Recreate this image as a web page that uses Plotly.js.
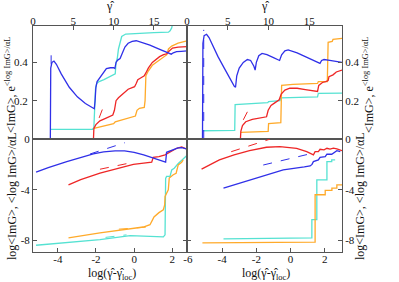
<!DOCTYPE html>
<html><head><meta charset="utf-8">
<script src="https://cdn.plot.ly/plotly-3.0.1.min.js"></script>
<style>html,body{margin:0;padding:0;background:#fff;}#chart{width:399px;height:282px;}</style>
</head><body><div id="chart"></div>
<script>
// ---------- Top-left panel (x = gamma-hat) ----------
const tlBlueX = [2.15,2.15,2.2,2.35,2.6,2.9,3.5,4.5,5.5,6.5,7.4,7.6,7.7,7.8,7.95,8.3,8.7,9.1,9.6,10.0,10.15,10.3,10.5,10.8,11.1,11.4,11.8,12.3,12.8,13.5,14.5,15.5,16.3,16.9,17.15,17.4,17.8,18.4,19.1];
const tlBlueY = [0,0.30,0.37,0.40,0.407,0.39,0.34,0.27,0.22,0.185,0.162,0.158,0.20,0.27,0.30,0.32,0.345,0.368,0.372,0.372,0.368,0.40,0.412,0.42,0.45,0.48,0.50,0.51,0.513,0.505,0.49,0.472,0.458,0.447,0.443,0.45,0.456,0.458,0.46];
const tlCyanX = [2.15,4.0,6.0,7.4,7.55,7.65,7.75,7.9,8.2,8.8,9.5,10.0,10.2,10.3,10.45,10.6,10.8,11.0,11.5,13.0,15.0,16.8,17.0,17.2,17.4];
const tlCyanY = [0.05,0.05,0.05,0.051,0.06,0.15,0.26,0.29,0.30,0.31,0.325,0.334,0.34,0.40,0.42,0.47,0.51,0.535,0.548,0.552,0.555,0.558,0.565,0.58,0.62];
const tlRedX = [7.5,7.5,7.55,7.8,8.3,9.0,9.5,9.9,10.1,10.3,10.6,11.0,11.4,11.8,12.3,12.6,12.8,13.0,13.4,13.8,14.0,14.3,14.8,15.3,15.7,16.2,16.6,16.9,17.3,18.0,19.1];
const tlRedY = [0,0.03,0.055,0.075,0.095,0.108,0.116,0.125,0.15,0.20,0.215,0.23,0.25,0.26,0.268,0.273,0.29,0.31,0.32,0.33,0.345,0.37,0.40,0.415,0.43,0.44,0.445,0.46,0.475,0.48,0.482];
const tlOrangeX = [7.55,8.5,9.5,10.0,10.2,11.0,12.0,12.7,12.9,13.2,13.8,13.9,14.0,14.3,14.8,15.3,15.8,16.3,16.6,16.8,17.2,18.0,19.1];
const tlOrangeY = [0.055,0.065,0.075,0.08,0.09,0.10,0.11,0.12,0.15,0.16,0.165,0.20,0.33,0.355,0.385,0.40,0.415,0.43,0.44,0.47,0.485,0.50,0.512];
const tlBlueDashX = [2.25,2.25];
const tlBlueDashY = [0.39,0.445];
const tlRedDashX = [8.2,8.7];
const tlRedDashY = [0.11,0.165];

// ---------- Top-right panel (x = gamma-hat) ----------
const trBlueX = [1.9,1.9,1.95,2.1,2.4,2.7,3.2,3.8,4.5,5.2,5.8,5.95,6.1,6.4,6.9,7.4,7.8,8.2,8.35,8.5,8.8,9.2,9.8,10.6,11.2,11.35,11.6,12.0,12.4,13.5,14.5,15.5,16.1,16.3,16.5,16.8,17.5,18.3,19.0];
const trBlueY = [0,0.35,0.50,0.54,0.547,0.53,0.48,0.43,0.375,0.32,0.275,0.27,0.33,0.37,0.40,0.415,0.41,0.38,0.36,0.40,0.435,0.447,0.44,0.425,0.413,0.41,0.44,0.46,0.465,0.45,0.43,0.41,0.395,0.395,0.41,0.415,0.41,0.405,0.40];
const trCyanX = [1.9,5.85,5.9,7.0,9.9,10.0,11.4,11.5,16.0,16.1,19.0];
const trCyanY = [0.043,0.045,0.18,0.183,0.19,0.195,0.20,0.215,0.22,0.238,0.24];
const trOrangeX = [6.6,8.0,9.95,10.0,11.5,11.6,13.0,16.0,16.1,17.2,17.3,17.8,17.9,19.0];
const trOrangeY = [0.035,0.038,0.04,0.08,0.085,0.28,0.285,0.29,0.30,0.30,0.505,0.51,0.52,0.525];
const trRedX = [6.55,6.6,6.8,7.2,8.0,8.8,9.75,9.95,10.3,10.8,11.3,11.55,12.0,12.6,13.5,14.5,15.5,16.0,16.15,16.6,17.0,17.3,17.4,17.9,18.3,19.0];
const trRedY = [0,0.04,0.07,0.09,0.103,0.11,0.116,0.15,0.175,0.19,0.205,0.235,0.255,0.265,0.265,0.258,0.25,0.248,0.28,0.295,0.30,0.305,0.325,0.335,0.35,0.36];
const trBlueDashX = [2.05,2.05];
const trBlueDashY = [0,0.57];
const trRedDashX = [6.9,7.5];
const trRedDashY = [0.10,0.15];

// ---------- Bottom-left panel (x = log(gamma - gamma_loc)) ----------
const blBlueX = [-5.14,-4.5,-3.53,-2.8,-2.14,-1.6,-1.0,-0.5,0.0,0.5,1.0,1.4,1.65,1.7,1.9,2.1,2.3,2.5,2.65,2.79];
const blBlueY = [-2.61,-2.25,-1.78,-1.45,-1.18,-1.02,-0.93,-0.93,-1.05,-1.25,-1.52,-1.7,-1.83,-1.05,-0.95,-0.8,-0.7,-0.68,-0.75,-0.81];
const blRedX = [-3.44,-2.8,-1.79,-1.0,-0.04,0.5,0.92,1.0,1.3,1.62,1.88,2.05,2.23,2.49,2.65,2.79];
const blRedY = [-3.61,-3.2,-2.69,-2.35,-1.99,-1.9,-1.83,-1.44,-1.38,-1.25,-1.0,-0.9,-0.73,-0.62,-0.7,-0.81];
const blOrangeX = [-3.44,-1.79,0.48,0.83,0.97,1.04,1.3,1.53,1.6,1.62,1.79,1.84,2.05,2.2,2.31,2.49,2.57];
const blOrangeY = [-7.79,-7.40,-6.93,-6.75,-6.35,-6.14,-5.8,-5.57,-5.2,-4.52,-4.0,-3.08,-2.82,-2.7,-2.04,-1.83,-1.65];
const blCyanX = [-5.14,-3.5,-1.79,-0.21,1.0,1.53,1.62,1.65,1.7,1.88,1.97,2.1,2.3,2.49,2.66,2.79];
const blCyanY = [-8.37,-8.15,-7.92,-7.61,-7.71,-7.71,-7.55,-3.1,-2.95,-2.95,-2.43,-2.3,-1.95,-1.65,-1.39,-1.25];
const blBlueDashX = [-2.31,-0.48];
const blBlueDashY = [-1.18,-0.29];
const blRedDashX = [-1.79,-0.04];
const blRedDashY = [-2.38,-1.83];
const blOrangeDashX = [-0.8,1.0];
const blOrangeDashY = [-7.1,-6.9];
const blCyanDashX = [-1.5,-0.4];
const blCyanDashY = [-7.75,-7.55];

// ---------- Bottom-right panel ----------
const brRedX = [-5.2,-4.16,-3.3,-2.4,-1.41,-0.63,0.35,0.94,1.33,1.43,1.62,1.72,1.95,2.12,2.3,2.5,2.7,2.9,3.0];
const brRedY = [-2.37,-1.65,-1.25,-0.92,-0.65,-0.6,-0.73,-1.0,-1.25,-1.0,-1.0,-0.81,-0.85,-0.73,-0.8,-0.72,-0.78,-0.86,-0.92];
const brBlueX = [-3.92,-2.4,-0.43,0.8,1.14,1.25,1.33,1.62,1.72,2.02,2.12,2.4,2.5,2.7,2.9];
const brBlueY = [-3.87,-3.22,-2.43,-2.2,-2.12,-2.0,-1.78,-1.65,-1.44,-1.39,-1.2,-1.2,-1.12,-0.92,-1.0];
const brCyanX = [-3.92,-1.0,1.2,1.24,1.24,1.53,1.53,2.12,2.12,2.4,2.4,2.6];
const brCyanY = [-7.87,-7.85,-7.79,-7.79,-6.35,-6.35,-3.22,-3.22,-1.78,-1.78,-1.65,-1.65];
const brOrangeX = [-5.15,-2.0,0.0,1.3,1.43,1.43,2.02,2.02,2.41,2.41,2.7,2.7,3.0];
const brOrangeY = [-8.18,-8.16,-8.14,-8.13,-8.13,-4.39,-4.39,-4.05,-4.05,-3.87,-3.87,-3.61,-3.61];
const brBlueDashX = [-1.6,1.25];
const brBlueDashY = [-2.05,-1.13];
const brRedDashX = [-3.47,-1.22];
const brRedDashY = [-1.0,-0.02];

// tick labels
const gammaTicks = [0,5,10,15];
const topYTicks = [0.2,0.4];
const botYTicks = [0,-4,-8];
const botYText = ['0','-4','-8'];
const blXTicks = [-4,-2,0,2];
const blXText = ['-4','-2','0','2'];
const brXTicks = [-6,-4,-2,0,2];
const brXText = ['-6','-4','-2','0','2'];

const BLUE='#3030e8', RED='#ee2626', ORANGE='#ffaa2a', CYAN='#55e2d2';
const FONT="'Liberation Serif', 'Times New Roman', serif";

function line(x,y,color,xa,ya,dash){
  return {x:x,y:y,type:'scatter',mode:'lines',xaxis:xa,yaxis:ya,
    line:{color:color,width:dash?1:1.3,dash:dash?'dash':'solid'},hoverinfo:'skip'};
}
const data = [
  line(tlCyanX,tlCyanY,CYAN,'x','y'),
  line(tlOrangeX,tlOrangeY,ORANGE,'x','y'),
  line(tlRedX,tlRedY,RED,'x','y'),
  line(tlBlueX,tlBlueY,BLUE,'x','y'),
  line(tlBlueDashX,tlBlueDashY,BLUE,'x','y',true),
  line(tlRedDashX,tlRedDashY,RED,'x','y',true),
  line(trCyanX,trCyanY,CYAN,'x2','y2'),
  line(trOrangeX,trOrangeY,ORANGE,'x2','y2'),
  line(trRedX,trRedY,RED,'x2','y2'),
  line(trBlueX,trBlueY,BLUE,'x2','y2'),
  line(trBlueDashX,trBlueDashY,BLUE,'x2','y2',true),
  line(trRedDashX,trRedDashY,RED,'x2','y2',true),
  line(blCyanX,blCyanY,CYAN,'x3','y3'),
  line(blOrangeX,blOrangeY,ORANGE,'x3','y3'),
  line(blRedX,blRedY,RED,'x3','y3'),
  line(blBlueX,blBlueY,BLUE,'x3','y3'),
  line(blBlueDashX,blBlueDashY,BLUE,'x3','y3',true),
  line(blRedDashX,blRedDashY,RED,'x3','y3',true),
  line(blOrangeDashX,blOrangeDashY,ORANGE,'x3','y3',true),
  line(blCyanDashX,blCyanDashY,CYAN,'x3','y3',true),
  line(brCyanX,brCyanY,CYAN,'x4','y4'),
  line(brOrangeX,brOrangeY,ORANGE,'x4','y4'),
  line(brRedX,brRedY,RED,'x4','y4'),
  line(brBlueX,brBlueY,BLUE,'x4','y4'),
  line(brBlueDashX,brBlueDashY,BLUE,'x4','y4',true),
  line(brRedDashX,brRedDashY,RED,'x4','y4',true)
];

const W=399,H=282;
const xL=[33/W,187/W], xR=[187/W,342/W];
const yT=[(H-139)/H,(H-26)/H], yB=[(H-252)/H,(H-139)/H];
const axBase = {showline:true,linecolor:'#555',linewidth:1,showgrid:false,zeroline:false,
  ticks:'inside',ticklen:4,tickcolor:'#555',tickfont:{family:FONT,size:11,color:'#111'}};
function ax(o){return Object.assign({},axBase,o);}

const layout = {
  width:W,height:H,margin:{l:0,r:0,t:0,b:0},showlegend:false,
  paper_bgcolor:'#fff',plot_bgcolor:'#fff',font:{family:FONT,color:'#111'},
  xaxis: ax({domain:xL,anchor:'y',side:'top',range:[0,19.1],tickvals:gammaTicks,mirror:true,ticklabelstandoff:-4}),
  yaxis: ax({domain:yT,anchor:'x',range:[0,0.59],tickvals:topYTicks,mirror:'ticks',ticklabelstandoff:2}),
  xaxis2: ax({domain:xR,anchor:'y2',side:'top',range:[0,19],tickvals:gammaTicks,mirror:true,ticklabelstandoff:-4}),
  yaxis2: ax({domain:yT,anchor:'x2',side:'right',range:[0,0.59],tickvals:topYTicks,mirror:'ticks'}),
  xaxis3: ax({domain:xL,anchor:'y3',range:[-5.3,2.77],tickvals:blXTicks,ticktext:blXText,mirror:true,ticklabelstandoff:-3}),
  yaxis3: ax({domain:yB,anchor:'x3',range:[-8.9,0],tickvals:botYTicks,ticktext:botYText,mirror:'ticks'}),
  xaxis4: ax({domain:xR,anchor:'y4',range:[-6.05,3.0],tickvals:brXTicks,ticktext:brXText,mirror:true,ticklabelstandoff:-3}),
  yaxis4: ax({domain:yB,anchor:'x4',side:'right',range:[-8.9,0],tickvals:botYTicks,ticktext:botYText,mirror:'ticks'}),
  annotations:[
    {text:'γ̂',x:110/W,y:(H-6)/H,xref:'paper',yref:'paper',showarrow:false,xanchor:'center',yanchor:'middle',font:{size:12}},
    {text:'γ̂',x:265/W,y:(H-6)/H,xref:'paper',yref:'paper',showarrow:false,xanchor:'center',yanchor:'middle',font:{size:12}},
    {text:'log(γ̂-γ̂<sub>loc</sub>)',x:112/W,y:(H-274)/H,xref:'paper',yref:'paper',showarrow:false,xanchor:'center',yanchor:'middle',font:{size:12}},
    {text:'log(γ̂-γ̂<sub>loc</sub>)',x:266/W,y:(H-274)/H,xref:'paper',yref:'paper',showarrow:false,xanchor:'center',yanchor:'middle',font:{size:12}},
    {text:'&lt;ImG&gt;, e<sup>&lt;log ImG&gt;/αL</sup>',textangle:-90,x:10/W,y:(H-85)/H,xref:'paper',yref:'paper',showarrow:false,xanchor:'center',yanchor:'middle',font:{size:12}},
    {text:'log&lt;ImG&gt;, &lt;log ImG&gt;/αL',textangle:-90,x:12/W,y:(H-196)/H,xref:'paper',yref:'paper',showarrow:false,xanchor:'center',yanchor:'middle',font:{size:12}},
    {text:'&lt;ImG&gt;, e<sup>&lt;log ImG&gt;/αL</sup>',textangle:-90,x:368/W,y:(H-85)/H,xref:'paper',yref:'paper',showarrow:false,xanchor:'center',yanchor:'middle',font:{size:12}},
    {text:'log&lt;ImG&gt;, &lt;log ImG&gt;/αL',textangle:-90,x:360/W,y:(H-196)/H,xref:'paper',yref:'paper',showarrow:false,xanchor:'center',yanchor:'middle',font:{size:12}}
  ]
};
Plotly.newPlot('chart',data,layout,{staticPlot:true,displayModeBar:false});
</script></body></html>
